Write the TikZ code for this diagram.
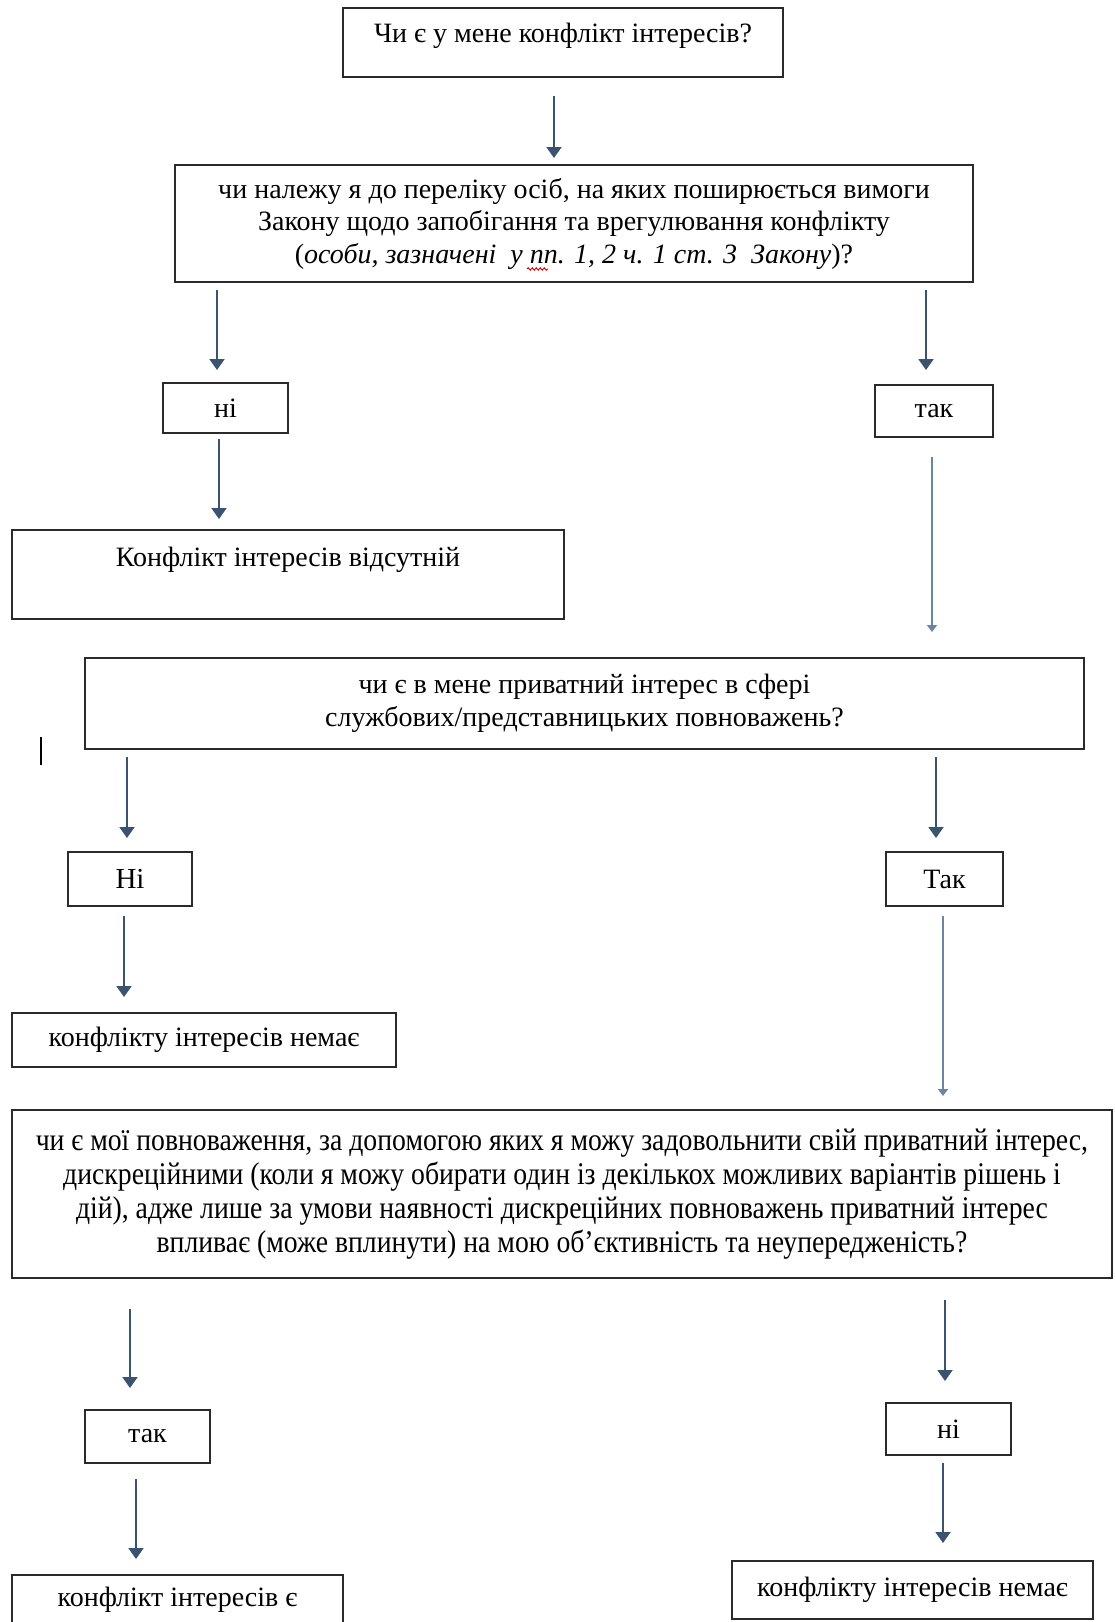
\documentclass[tikz,border=0pt]{standalone}
\usepackage{fontspec}
\setmainfont{Liberation Serif}
\newfontfamily\narrowserif[FakeStretch=0.88]{Liberation Serif}
\usetikzlibrary{arrows.meta,decorations.pathmorphing}
\definecolor{arrowc}{HTML}{3A5470}
\definecolor{arrowl}{HTML}{6A86A2}
\definecolor{boxc}{HTML}{2A2A2A}
\begin{document}
\begin{tikzpicture}[x=1pt,y=-1pt,
 box/.style={draw=boxc, line width=1.4pt, inner sep=0pt, align=center, font=\fontsize{28}{32.5}\selectfont},
 arr/.style={draw=arrowc, line width=2pt, -{Triangle[width=15pt,length=11pt]}},
 arrlong/.style={draw=arrowl, line width=1.8pt, -{Triangle[width=10pt,length=7pt]}},
]
\useasboundingbox (0,0) rectangle (1114,1622);
\fill[white] (0,0) rectangle (1114,1622);

\node[box, minimum width=440pt, minimum height=69pt, text height=21pt, text depth=21pt] (q1) at (563,42.5) {Чи є у мене конфлікт інтересів?};
\node[box, minimum width=798pt, minimum height=117pt] (q2) at (574,223.5) {чи належу я до переліку осіб, на яких поширюється вимоги\\ Закону щодо запобігання та врегулювання конфлікту\\ (\textit{особи, зазначені\ \ у пп. 1, 2 ч. 1 ст. 3\ \ Закону})?};
\node[box, minimum width=125pt, minimum height=50pt] (n1) at (225.5,408) {ні};
\node[box, minimum width=118pt, minimum height=52pt] (t1) at (934,411) {так};
\node[box, minimum width=552pt, minimum height=89pt, text height=19pt, text depth=35pt] (abs) at (288,574.5) {Конфлікт інтересів відсутній};
\node[box, minimum width=999pt, minimum height=91pt] (q3) at (584.5,703.5) {чи є в мене приватний інтерес в сфері\\ службових/представницьких повноважень?};
\node[box, minimum width=124pt, minimum height=54pt, font=\fontsize{29}{34}\selectfont] (n2) at (130,879) {Ні};
\node[box, minimum width=117pt, minimum height=54pt, font=\fontsize{28}{34}\selectfont] (t2) at (944.5,879) {Так};
\node[box, minimum width=384pt, minimum height=54pt] (no1) at (204,1040) {конфлікту інтересів немає};
\node[box, minimum width=1100pt, minimum height=168pt, font=\narrowserif\fontsize{31.5}{34}\selectfont] (q4) at (562,1194) {чи є мої повноваження, за допомогою яких я можу задовольнити свій приватний інтерес,\\ дискреційними (коли я можу обирати один із декількох можливих варіантів рішень і\\ дій), адже лише за умови наявності дискреційних повноважень приватний інтерес\\ впливає (може вплинути) на мою об’єктивність та неупередженість?};
\node[box, minimum width=125pt, minimum height=53pt] (t3) at (147.5,1436.5) {так};
\node[box, minimum width=125pt, minimum height=52pt] (n3) at (948.5,1429) {ні};
\node[box, minimum width=331pt, minimum height=50pt] (yes) at (177.5,1600) {конфлікт інтересів є};
\node[box, minimum width=361pt, minimum height=58pt] (no2) at (912.5,1590) {конфлікту інтересів немає};

\coordinate (a1s) at (554,96);   \coordinate (a1e) at (554,158);
\coordinate (a2s) at (217,290);  \coordinate (a2e) at (217,370);
\coordinate (a3s) at (926,290);  \coordinate (a3e) at (926,370);
\coordinate (a4s) at (219,439);  \coordinate (a4e) at (219,519);
\coordinate (a5s) at (932,457);  \coordinate (a5e) at (932,632);
\coordinate (a6s) at (127,757);  \coordinate (a6e) at (127,838);
\coordinate (a7s) at (936,757);  \coordinate (a7e) at (936,838);
\coordinate (a8s) at (124,916);  \coordinate (a8e) at (124,997);
\coordinate (a9s) at (943,916);  \coordinate (a9e) at (943,1096);
\coordinate (a10s) at (130,1309); \coordinate (a10e) at (130,1388);
\coordinate (a11s) at (945,1300); \coordinate (a11e) at (945,1381);
\coordinate (a12s) at (136,1479); \coordinate (a12e) at (136,1559);
\coordinate (a13s) at (943,1463); \coordinate (a13e) at (943,1543);

\draw[arr] (a1s) -- (a1e);
\draw[arr] (a2s) -- (a2e);
\draw[arr] (a3s) -- (a3e);
\draw[arr] (a4s) -- (a4e);
\draw[arrlong] (a5s) -- (a5e);
\draw[arr] (a6s) -- (a6e);
\draw[arr] (a7s) -- (a7e);
\draw[arr] (a8s) -- (a8e);
\draw[arrlong] (a9s) -- (a9e);
\draw[arr] (a10s) -- (a10e);
\draw[arr] (a11s) -- (a11e);
\draw[arr] (a12s) -- (a12e);
\draw[arr] (a13s) -- (a13e);

\draw[line width=2.5pt] (41,737) -- (41,765);
\draw[red!80!black, line width=0.9pt, decorate, decoration={snake, amplitude=1.2pt, segment length=4pt}] (527,269) -- (548,269);
\end{tikzpicture}
\end{document}
